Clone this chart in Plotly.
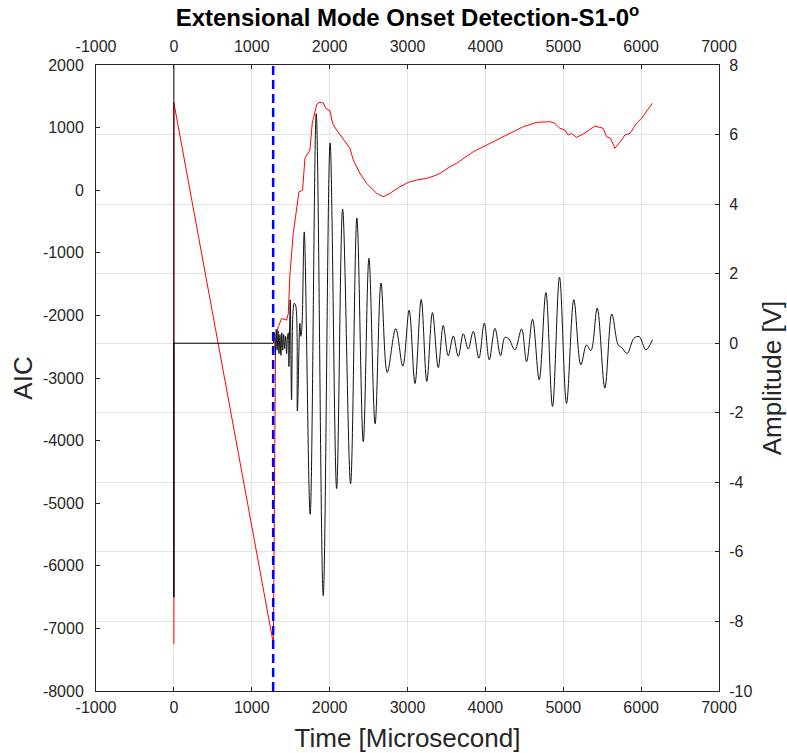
import plotly.graph_objects as go

# ---------------- data ----------------
# AIC curve (left axis)
aic_t = [0, 0, 1278, 1290, 1305, 1320, 1341, 1384, 1448, 1469, 1491, 1533, 1576, 1606,
         1653, 1683, 1747, 1777, 1833, 1854, 1919, 1949, 2004, 2038, 2090, 2154, 2175,
         2261, 2304, 2389, 2475, 2539, 2603, 2689, 2775, 2903, 3010, 3117, 3245, 3374,
         3416, 3545, 3630, 3844, 4058, 4272, 4486, 4657, 4828, 4893, 4957, 5021, 5064,
         5107, 5171, 5256, 5406, 5513, 5556, 5607, 5663, 5749, 5791, 5856, 5941, 6006,
         6070, 6112, 6146]
aic_v = [-7250, 1398, -7245, -4850, -2500, -2300, -2180, -2050, -2075, -1970, -1330, -690,
         -265, -25, 0, 510, 640, 1068, 1361, 1398, 1398, 1308, 1270, 1068, 961, 855, 801,
         669, 482, 269, 109, 29, -50, -104, -50, 55, 125, 162, 189, 242,
         269, 375, 429, 614, 748, 881, 1014, 1084, 1094, 1067, 988, 961, 881,
         907, 844, 897, 1025, 988, 854, 828, 669, 801, 881, 907, 1068, 1148,
         1270, 1334, 1388]

# signal lead-in (right axis): spike at t=0 then flat baseline until onset
lead_t = [0, 0, 0, 1280]
lead_v = [8, -7.3, 0, 0]

# signal waveform extrema (right axis)
sig_t = [1280, 1292, 1303, 1315, 1326, 1338, 1350, 1362, 1374, 1386, 1398, 1410, 1422,
         1435, 1448, 1460, 1470, 1477, 1494, 1511, 1530, 1546, 1563, 1586, 1618, 1631,
         1645, 1674, 1750, 1828, 1918, 2006, 2090, 2167, 2269, 2350, 2432, 2505, 2584,
         2660, 2740, 2849, 2940, 3021, 3096, 3176, 3248, 3320, 3395, 3459, 3523, 3588,
         3652, 3716, 3780, 3844, 3917, 3986, 4050, 4123, 4195, 4251, 4302, 4379, 4465,
         4529, 4606, 4691, 4777, 4862, 4952, 5042, 5136, 5226, 5299, 5355, 5436, 5534,
         5624, 5706, 5748, 5821, 5907, 5975, 6061, 6146]
sig_v = [0, 0.3, -0.35, 0.4, -0.2, 0.35, -0.3, 0.25, -0.35, 0.3, -0.2, 0.25, -0.15,
         0.2, -0.3, 0.2, 0.3, -0.67, 1.25, -1.63, 0.9, 1.15, 1.1, -1.95, 0.57, 0.2,
         0.5, 3.2, -4.92, 6.6, -7.26, 5.76, -4.18, 3.86, -4.04, 3.6, -2.83, 2.44, -2.32,
         1.73, -0.84, 0.42, -0.66, 0.95, -1.16, 1.26, -1.10, 0.88, -0.70, 0.51, -0.36, 0.21,
         -0.38, 0.27, -0.17, 0.34, -0.43, 0.58, -0.48, 0.43, -0.36, 0.17, 0.12, -0.19, 0.41,
         -0.53, 0.69, -1.05, 1.46, -1.82, 1.90, -1.73, 1.25, -0.62, -0.05, -0.21, 1.01, -1.29,
         0.84, -0.05, -0.12, -0.29, 0.14, 0.19, -0.19, 0.10]

onset_time = 1275

x_ticks = [-1000, 0, 1000, 2000, 3000, 4000, 5000, 6000, 7000]
aic_ticks = [-8000, -7000, -6000, -5000, -4000, -3000, -2000, -1000, 0, 1000, 2000]
amp_ticks = [-10, -8, -6, -4, -2, 0, 2, 4, 6, 8]

# ---------------- figure ----------------
FONT = "Liberation Sans, Arial, Helvetica, sans-serif"
AX = "#262626"
GRID = "#e3e3e3"


def labels(vals):
    return [str(v) for v in vals]


fig = go.Figure()
fig.add_trace(go.Scatter(x=aic_t, y=aic_v, mode="lines", xaxis="x", yaxis="y",
                         line=dict(color="#ff0000", width=1), showlegend=False))
fig.add_trace(go.Scatter(x=lead_t, y=lead_v, mode="lines", xaxis="x", yaxis="y2",
                         line=dict(color="#000000", width=1), showlegend=False))
fig.add_trace(go.Scatter(x=sig_t, y=sig_v, mode="lines", xaxis="x", yaxis="y2",
                         line=dict(color="#111111", width=1, shape="spline", smoothing=1),
                         showlegend=False))
fig.add_trace(go.Scatter(x=[onset_time, onset_time], y=[amp_ticks[0], amp_ticks[-1]],
                         mode="lines", xaxis="x2", yaxis="y2",
                         line=dict(color="#0000ff", width=2.5, dash="9px,5px"),
                         showlegend=False))

axis_common = dict(showline=True, linecolor=AX, linewidth=1, ticks="inside", ticklen=4,
                   tickcolor=AX, tickfont=dict(family=FONT, size=16, color=AX),
                   zeroline=False, automargin=False)

fig.update_layout(
    width=787, height=753,
    margin=dict(l=96, r=68, t=65, b=62),
    paper_bgcolor="white", plot_bgcolor="white",
    title=dict(text="<b>Extensional Mode Onset Detection-S1-0<sup>o</sup></b>",
               xref="paper", x=0.5, xanchor="center", y=0.977, yanchor="middle",
               font=dict(family=FONT, size=24, color="#000000")),
    xaxis=dict(range=[x_ticks[0], x_ticks[-1]], tickvals=x_ticks, ticktext=labels(x_ticks),
               showgrid=True, gridcolor=GRID, gridwidth=1, ticklabelstandoff=2,
               title=dict(text="Time [Microsecond]", standoff=13,
                          font=dict(family=FONT, size=26, color=AX)),
               **axis_common),
    xaxis2=dict(range=[x_ticks[0], x_ticks[-1]], tickvals=x_ticks, ticktext=labels(x_ticks),
                overlaying="x", side="top", matches="x", showgrid=False,
                ticklabelstandoff=6, **axis_common),
    yaxis=dict(range=[aic_ticks[0], aic_ticks[-1]], tickvals=aic_ticks,
               ticktext=labels(aic_ticks), showgrid=False, ticklabelstandoff=8,
               title=dict(text="AIC", standoff=2,
                          font=dict(family=FONT, size=26, color=AX)),
               **axis_common),
    yaxis2=dict(range=[amp_ticks[0], amp_ticks[-1]], tickvals=amp_ticks,
                ticktext=labels(amp_ticks), overlaying="y", side="right",
                showgrid=True, gridcolor=GRID, gridwidth=1, ticklabelstandoff=6,
                title=dict(text="Amplitude [V]", standoff=19,
                           font=dict(family=FONT, size=26, color=AX)),
                **axis_common),
)

fig.write_html("out.html", config={"displayModeBar": False},
               post_script="document.body.style.margin='0px';")
